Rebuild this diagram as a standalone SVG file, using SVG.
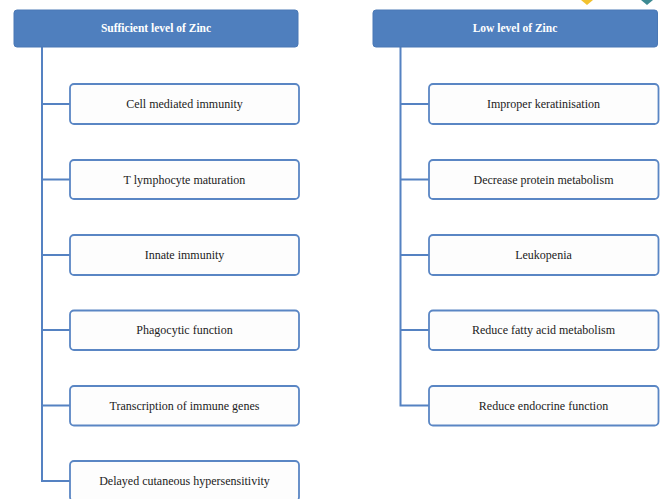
<svg xmlns="http://www.w3.org/2000/svg" width="665" height="499" viewBox="0 0 665 499">
  <style>
    .head rect { fill: #4f7fbe; stroke: #4a78b5; stroke-width: 1; }
    .head text { fill: #ffffff; font-size: 11.5px; font-weight: bold; text-anchor: middle; }
    .item rect { fill: #fdfdfd; stroke: #5a86c4; stroke-width: 1.8; }
    .item text { fill: #222222; font-size: 12px; text-anchor: middle; }
    .wire { fill: none; stroke: #5582c2; stroke-width: 2; }
  </style>

  <!-- partial decorative markers at the top edge -->
  <polygon points="581,0 593,0 587,5" fill="#f2c230"/>
  <polygon points="641,0 653,0 647,5" fill="#3d8a92"/>

  <!-- connectors -->
  <g id="connectors" class="wire">
    <path d="M42,47 V481 H70 M42,104 H70 M42,179.5 H70 M42,255 H70 M42,330 H70 M42,405.5 H70"/>
    <path d="M400.5,47 V405.5 H429 M400.5,104 H429 M400.5,179.5 H429 M400.5,255 H429 M400.5,330 H429"/>
  </g>

  <g font-family="'Liberation Serif', 'Times New Roman', 'DejaVu Serif', serif">
  <!-- left column -->
  <g id="sufficient" class="head">
    <rect x="14" y="10" width="284" height="37" rx="3"/>
    <text x="156" y="32">Sufficient level of Zinc</text>
  </g>
  <g id="cell-mediated" class="item">
    <rect x="70" y="84" width="229" height="40" rx="4"/>
    <text x="184.5" y="108">Cell mediated immunity</text>
  </g>
  <g id="t-lymphocyte" class="item">
    <rect x="70" y="160" width="229" height="39" rx="4"/>
    <text x="184.5" y="183.5">T lymphocyte maturation</text>
  </g>
  <g id="innate" class="item">
    <rect x="70" y="235" width="229" height="40" rx="4"/>
    <text x="184.5" y="259">Innate immunity</text>
  </g>
  <g id="phagocytic" class="item">
    <rect x="70" y="310.5" width="229" height="39.5" rx="4"/>
    <text x="184.5" y="334">Phagocytic function</text>
  </g>
  <g id="transcription" class="item">
    <rect x="70" y="386" width="229" height="39.5" rx="4"/>
    <text x="184.5" y="409.5">Transcription of immune genes</text>
  </g>
  <g id="delayed" class="item">
    <rect x="70" y="461" width="229" height="40" rx="4"/>
    <text x="184.5" y="485">Delayed cutaneous hypersensitivity</text>
  </g>

  <!-- right column -->
  <g id="low" class="head">
    <rect x="373" y="10" width="284.5" height="37" rx="3"/>
    <text x="515" y="32">Low level of Zinc</text>
  </g>
  <g id="keratinisation" class="item">
    <rect x="429" y="84" width="229.5" height="40" rx="4"/>
    <text x="543.5" y="108">Improper keratinisation</text>
  </g>
  <g id="protein" class="item">
    <rect x="429" y="160" width="229.5" height="39" rx="4"/>
    <text x="543.5" y="183.5">Decrease protein metabolism</text>
  </g>
  <g id="leukopenia" class="item">
    <rect x="429" y="235" width="229.5" height="40" rx="4"/>
    <text x="543.5" y="259">Leukopenia</text>
  </g>
  <g id="fatty-acid" class="item">
    <rect x="429" y="310.5" width="229.5" height="39.5" rx="4"/>
    <text x="543.5" y="334">Reduce fatty acid metabolism</text>
  </g>
  <g id="endocrine" class="item">
    <rect x="429" y="386" width="229.5" height="39.5" rx="4"/>
    <text x="543.5" y="409.5">Reduce endocrine function</text>
  </g>
  </g>
</svg>
